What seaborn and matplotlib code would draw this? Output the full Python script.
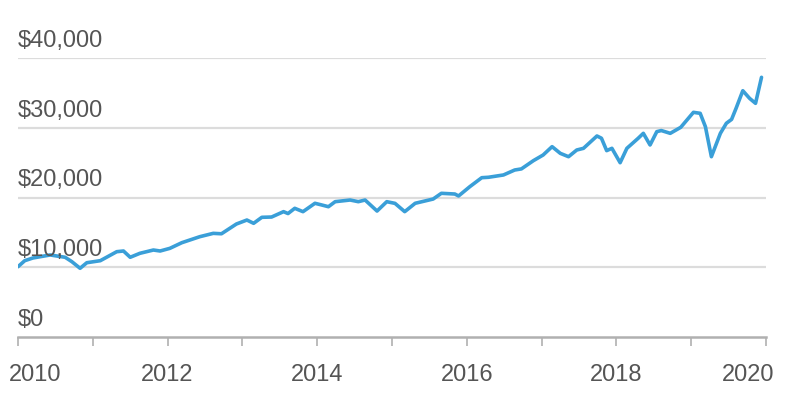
import pandas as pd
import seaborn as sns
import matplotlib.pyplot as plt
import matplotlib.transforms as mtransforms
from matplotlib.ticker import MultipleLocator

# valeurs (croissance de 10 000 $)
years = [2010.00, 2010.09, 2010.20, 2010.43, 2010.63, 2010.72, 2010.83, 2010.92,
         2011.10, 2011.32, 2011.41, 2011.50, 2011.63, 2011.81, 2011.90,
         2012.03, 2012.19, 2012.43, 2012.61, 2012.72, 2012.92,
         2013.06, 2013.15, 2013.26, 2013.39, 2013.55, 2013.61, 2013.70, 2013.81, 2013.97,
         2014.06, 2014.15, 2014.24, 2014.44, 2014.55, 2014.64, 2014.80, 2014.93,
         2015.04, 2015.17, 2015.31, 2015.55, 2015.66, 2015.84, 2015.89,
         2016.04, 2016.20, 2016.29, 2016.49, 2016.64, 2016.73, 2016.89,
         2017.02, 2017.14, 2017.25, 2017.36, 2017.47, 2017.56, 2017.74, 2017.80, 2017.87, 2017.94,
         2018.05, 2018.14, 2018.29, 2018.36, 2018.45, 2018.54, 2018.60, 2018.72, 2018.86,
         2019.03, 2019.12, 2019.19, 2019.27, 2019.39, 2019.47, 2019.54, 2019.60, 2019.69,
         2019.78, 2019.86, 2019.94]
values = [10080, 10940, 11330, 11760, 11430, 10800, 9850, 10650,
          10940, 12230, 12330, 11430, 12000, 12470, 12330,
          12710, 13520, 14380, 14860, 14800, 16200,
          16770, 16300, 17160, 17200, 17970, 17700, 18450, 17970, 19170,
          18930, 18680, 19400, 19640, 19400, 19640, 18060, 19400,
          19160, 17970, 19170, 19780, 20600, 20500, 20220,
          21550, 22840, 22900, 23230, 23940, 24100, 25280,
          26090, 27290, 26330, 25850, 26810, 27050, 28820, 28500, 26720, 27050,
          24990, 27050, 28480, 29200, 27530, 29440, 29600, 29200, 30060,
          32210, 32070, 30150, 25850, 29200, 30640, 31200, 32790, 35310,
          34220, 33500, 37230]

y_ticks = [0, 10000, 20000, 30000, 40000]
y_labels = ['$0', '$10,000', '$20,000', '$30,000', '$40,000']
x_labeled = [2010, 2012, 2014, 2016, 2018, 2020]

df = pd.DataFrame({'ano': years, 'valor': values})

sns.set_style('white')
plt.rcParams['font.family'] = ['Liberation Sans', 'DejaVu Sans']
text_color = '#555555'
fsize = 17

fig = plt.figure(figsize=(7.9, 4.08), dpi=100)
ax = fig.add_axes([18 / 790, 71 / 408, 748 / 790, 279 / 408])

sns.lineplot(data=df, x='ano', y='valor', ax=ax, color='#3a9fd8',
             linewidth=2.6, estimator=None, sort=False)
ax.lines[0].set_solid_joinstyle('round')
ax.lines[0].set_solid_capstyle('round')

ax.set_xlim(2010, 2020)
ax.set_ylim(0, 40000)

# grille horizontale
for v in y_ticks[1:]:
    ax.axhline(v, color='#dcdcdc', linewidth=1.6, zorder=0)

# étiquettes y au-dessus des lignes
for v, lab in zip(y_ticks, y_labels):
    ax.annotate(lab, xy=(0, v), xycoords=('axes fraction', 'data'),
                xytext=(0, 8), textcoords='offset points',
                ha='left', va='baseline', fontsize=fsize, color=text_color)

ax.set_yticks([])
ax.xaxis.set_major_locator(MultipleLocator(2))
ax.xaxis.set_minor_locator(MultipleLocator(1))
ax.set_xticks(x_labeled)
ax.set_xticklabels([str(x) for x in x_labeled])
ax.tick_params(axis='x', which='both', bottom=True, length=6.5, width=1.2,
               color='#b0b0b0', pad=13, labelsize=fsize, labelcolor=text_color)

# première et dernière étiquette gardées dans la figure
labels = ax.get_xticklabels()
labels[0].set_ha('left')
labels[0].set_transform(labels[0].get_transform() +
                        mtransforms.ScaledTranslation(-9 / 100, 0, fig.dpi_scale_trans))
labels[-1].set_ha('right')
labels[-1].set_transform(labels[-1].get_transform() +
                         mtransforms.ScaledTranslation(8 / 100, 0, fig.dpi_scale_trans))

for side in ['top', 'right', 'left']:
    ax.spines[side].set_visible(False)
ax.spines['bottom'].set_color('#b0b0b0')
ax.spines['bottom'].set_linewidth(1.8)

ax.set_xlabel('')
ax.set_ylabel('')

fig.savefig('out.png', dpi=100)
